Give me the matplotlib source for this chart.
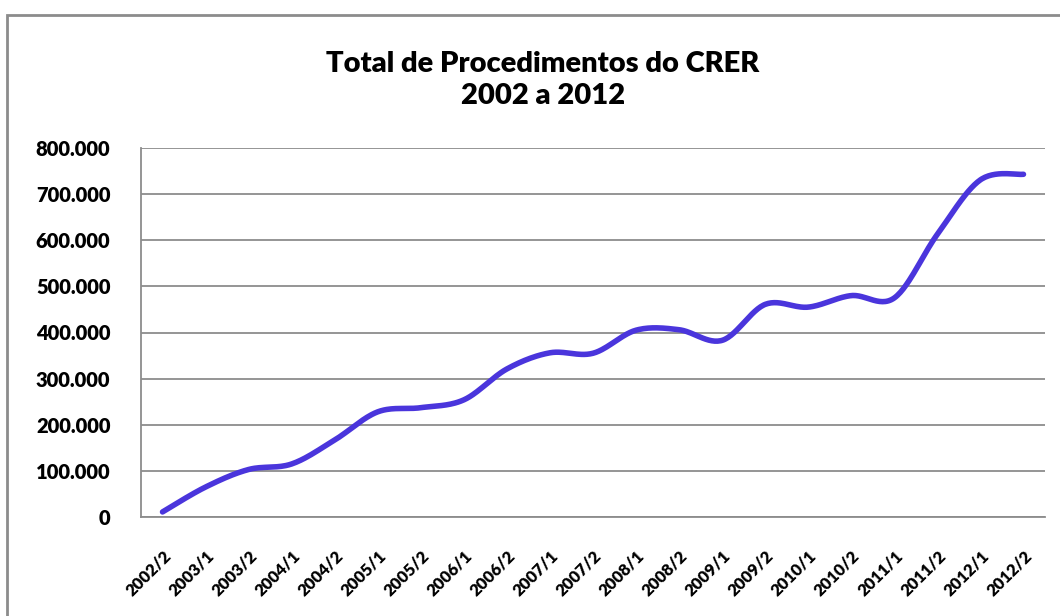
import numpy as np
import matplotlib.pyplot as plt
from matplotlib.patches import Rectangle
from matplotlib.ticker import FuncFormatter

periodos = ['2002/2', '2003/1', '2003/2', '2004/1', '2004/2', '2005/1', '2005/2',
            '2006/1', '2006/2', '2007/1', '2007/2', '2008/1', '2008/2', '2009/1',
            '2009/2', '2010/1', '2010/2', '2011/1', '2011/2', '2012/1', '2012/2']
procedimentos = [11000, 65000, 103000, 115000, 167000, 228000, 237000,
                 254000, 321000, 356000, 355000, 405000, 406000, 383000,
                 461000, 455000, 480000, 475000, 613000, 731000, 743000]
y_ticks = [0, 100000, 200000, 300000, 400000, 500000, 600000, 700000, 800000]

titulo = 'Total de Procedimentos do CRER\n2002 a 2012'


def smooth_line(x, y, n=30):
    # catmull-rom style bezier, similar to excel "smoothed line"
    x = np.asarray(x, float)
    y = np.asarray(y, float)
    px = np.concatenate([[x[0]], x, [x[-1]]])
    py = np.concatenate([[y[0]], y, [y[-1]]])
    xs, ys = [], []
    t = np.linspace(0, 1, n)
    for i in range(1, len(px) - 2):
        p0 = np.array([px[i], py[i]])
        p3 = np.array([px[i + 1], py[i + 1]])
        p1 = p0 + (p3 - np.array([px[i - 1], py[i - 1]])) / 6
        p2 = p3 - (np.array([px[i + 2], py[i + 2]]) - p0) / 6
        b = ((1 - t) ** 3)[:, None] * p0 + (3 * (1 - t) ** 2 * t)[:, None] * p1 \
            + (3 * (1 - t) * t ** 2)[:, None] * p2 + (t ** 3)[:, None] * p3
        xs.extend(b[:, 0])
        ys.extend(b[:, 1])
    return np.array(xs), np.array(ys)


plt.rcParams['font.family'] = ['Lato', 'DejaVu Sans']

fig = plt.figure(figsize=(10.6, 6.16), dpi=100)
ax = fig.add_axes([141 / 1060, 1 - 517 / 616, 904 / 1060, 369 / 616])

# chart area border
fig.patches.append(Rectangle((7 / 1060, -0.05), 1.1, 1 - 15 / 616 + 0.05,
                             transform=fig.transFigure, fill=False,
                             edgecolor='#8c8c8c', linewidth=2))

xpos = np.arange(len(periodos))
sx, sy = smooth_line(xpos, procedimentos)
ax.plot(sx, sy, color='#4a35dc', linewidth=4, solid_capstyle='round')

ax.set_xlim(-0.5, len(periodos) - 0.5)
ax.set_ylim(0, 800000)
ax.set_yticks(y_ticks)
ax.yaxis.set_major_formatter(FuncFormatter(lambda v, p: f'{int(v):,}'.replace(',', '.')))
ax.grid(axis='y', color='#8c8c8c', linewidth=1.3)
ax.set_axisbelow(True)

for s in ['top', 'right']:
    ax.spines[s].set_visible(False)
for s in ['left', 'bottom']:
    ax.spines[s].set_color('#8c8c8c')
    ax.spines[s].set_linewidth(1.3)

ax.set_xticks(xpos)
ax.set_xticklabels(periodos, rotation=45, ha='right', rotation_mode='anchor',
                   fontsize=12, fontweight='heavy')
ax.tick_params(axis='x', length=0, pad=22)
ax.tick_params(axis='y', length=0, pad=22, labelsize=14.5)
for lbl in ax.get_yticklabels():
    lbl.set_fontweight('heavy')

fig.text(543 / 1060, 1 - 80 / 616, titulo, ha='center', va='center',
         fontsize=21, fontweight='heavy', linespacing=1.25)

fig.savefig('out.png', dpi=100)
